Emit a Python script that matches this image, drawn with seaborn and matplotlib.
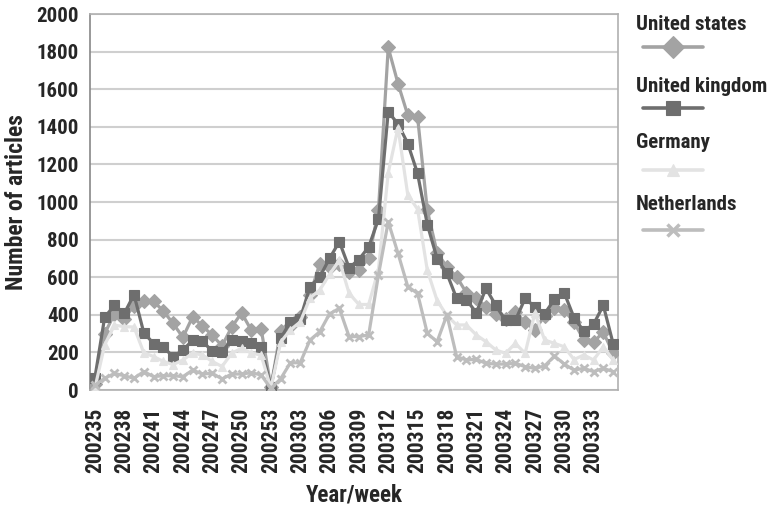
import numpy as np
import pandas as pd
import matplotlib
matplotlib.use("Agg")
import matplotlib.pyplot as plt
from matplotlib import font_manager as fm
from matplotlib.lines import Line2D
import seaborn as sns

# Weekly article counts, 2002 week 35 to 2003 week 35
weeks = [f"2002{w:02d}" for w in range(35, 54)] + [f"2003{w:02d}" for w in range(1, 36)]

united_states = [33, 300, 405, 380, 448, 472, 472, 420, 354, 280, 390, 340, 292, 235, 335, 410, 318, 327, 15,
                 315, 340, 390, 505, 672, 652, 672, 630, 640, 700, 955, 1822, 1630, 1462, 1453, 955, 730, 655,
                 602, 517, 490, 442, 406, 380, 415, 360, 320, 395, 437, 425, 360, 268, 255, 308, 195]
united_kingdom = [65, 387, 450, 407, 507, 305, 247, 227, 178, 212, 265, 258, 208, 203, 267, 263, 249, 229, 15,
                  275, 363, 378, 550, 602, 700, 789, 650, 694, 761, 908, 1480, 1415, 1311, 1152, 880, 699, 620,
                  487, 480, 412, 540, 450, 370, 370, 487, 442, 406, 482, 517, 385, 313, 350, 450, 247]
germany = [10, 240, 345, 337, 335, 198, 178, 152, 135, 160, 196, 186, 152, 125, 196, 222, 196, 186, 10,
           255, 320, 362, 490, 532, 615, 690, 514, 455, 455, 640, 1155, 1395, 1038, 962, 636, 476, 396,
           346, 346, 293, 257, 213, 195, 248, 195, 410, 266, 248, 230, 162, 186, 160, 230, 160]
netherlands = [25, 62, 88, 76, 62, 98, 71, 76, 76, 71, 106, 85, 89, 59, 85, 85, 92, 80, 8,
               60, 145, 145, 266, 310, 405, 434, 284, 284, 293, 612, 895, 727, 550, 514, 301, 257, 399,
               177, 160, 163, 142, 138, 138, 142, 124, 115, 128, 181, 138, 106, 115, 98, 115, 98]

series = {
    "United states": (united_states, "#a3a3a3", "D", 7),
    "United kingdom": (united_kingdom, "#6e6e6e", "s", 7),
    "Germany": (germany, "#e3e3e3", "^", 6),
    "Netherlands": (netherlands, "#bdbdbd", "x", 6),
}


def find_condensed_bold():
    # look for a narrow/condensed bold face among installed fonts
    prefer = ["liberation sans narrow", "roboto condensed", "open sans condensed",
              "noto sans display", "dejavu sans"]
    found = []
    for f in fm.fontManager.ttflist:
        name = f.name.lower()
        w = f.weight if isinstance(f.weight, int) else fm.weight_dict.get(f.weight, 400)
        st = f.stretch if isinstance(f.stretch, int) else fm.stretch_dict.get(f.stretch, 500)
        narrow = ("narrow" in name or "condensed" in name or st < 500
                  or "condensed" in f.fname.lower() or "narrow" in f.fname.lower())
        if narrow and w >= 700 and "italic" not in f.fname.lower() and f.style == "normal":
            rank = next((i for i, p in enumerate(prefer) if p in name), len(prefer))
            found.append((rank, -w, f.fname))
    if found:
        found.sort()
        return fm.FontProperties(fname=found[0][2]), True
    return fm.FontProperties(family="DejaVu Sans", weight="bold"), False


sns.set_style("white")
plt.rcParams["font.family"] = ["DejaVu Sans"]
base_fp, is_narrow = find_condensed_bold()
scale = 1.0 if is_narrow else 0.8


def fp(size):
    p = base_fp.copy()
    p.set_size(size * scale)
    return p


fig = plt.figure(figsize=(7.74, 5.08), dpi=100)
ax = fig.add_axes([90 / 774, 118 / 508, 528 / 774, 376 / 508])

idx = np.arange(len(weeks))
for name, (vals, color, marker, ms) in series.items():
    df = pd.DataFrame({"idx": idx, "value": vals})
    sns.lineplot(data=df, x="idx", y="value", ax=ax, color=color, linewidth=2.3,
                 marker=marker, markersize=ms, markeredgecolor=color,
                 markeredgewidth=2 if marker == "x" else 0.8, zorder=3)

ax.set_xlim(-0.5, len(weeks) - 0.5)
ax.set_ylim(0, 2000)
ax.set_yticks(range(0, 2001, 200))
ax.set_yticklabels([str(v) for v in range(0, 2001, 200)], fontproperties=fp(15))
ax.set_xticks(idx[::3])
ax.set_xticklabels(weeks[::3], rotation=90, fontproperties=fp(15.5))
ax.set_xticks(np.arange(-0.5, len(weeks), 1), minor=True)
ax.tick_params(axis="x", which="major", length=0, pad=13)
ax.tick_params(axis="x", which="minor", length=4, color="#999999", direction="out")
ax.tick_params(axis="y", length=4, color="#bbbbbb", pad=4)
ax.grid(axis="y", color="#cfcfcf", linewidth=1.5)
ax.set_axisbelow(True)
for side in ["top", "right", "bottom"]:
    ax.spines[side].set_color("#b0b0b0")
ax.spines["left"].set_color("#888888")
for s in ax.spines.values():
    s.set_linewidth(1.2)

ax.set_xlabel("Year/week", fontproperties=fp(16.5), labelpad=7)
ax.set_ylabel("Number of articles", fontproperties=fp(17), labelpad=6)

# legend: label text above a line sample, like the original
legend_y = [24, 87, 142, 204]
line_y = [47, 108, 170, 230]
marker_size = {"D": 11, "s": 10, "^": 9, "x": 9}
for (name, (vals, color, marker, ms)), ty, lyp in zip(series.items(), legend_y, line_y):
    fig.text(636 / 774, 1 - ty / 508, name, fontproperties=fp(15), va="center", ha="left")
    ly = 1 - lyp / 508
    fig.add_artist(Line2D([643 / 774, 703 / 774], [ly, ly], color=color, linewidth=2.6,
                          transform=fig.transFigure))
    fig.add_artist(Line2D([673 / 774], [ly], color=color, marker=marker, markersize=marker_size[marker],
                          markeredgecolor=color, markeredgewidth=2.5 if marker == "x" else 0.8,
                          transform=fig.transFigure))

fig.savefig("out.png", dpi=100)
